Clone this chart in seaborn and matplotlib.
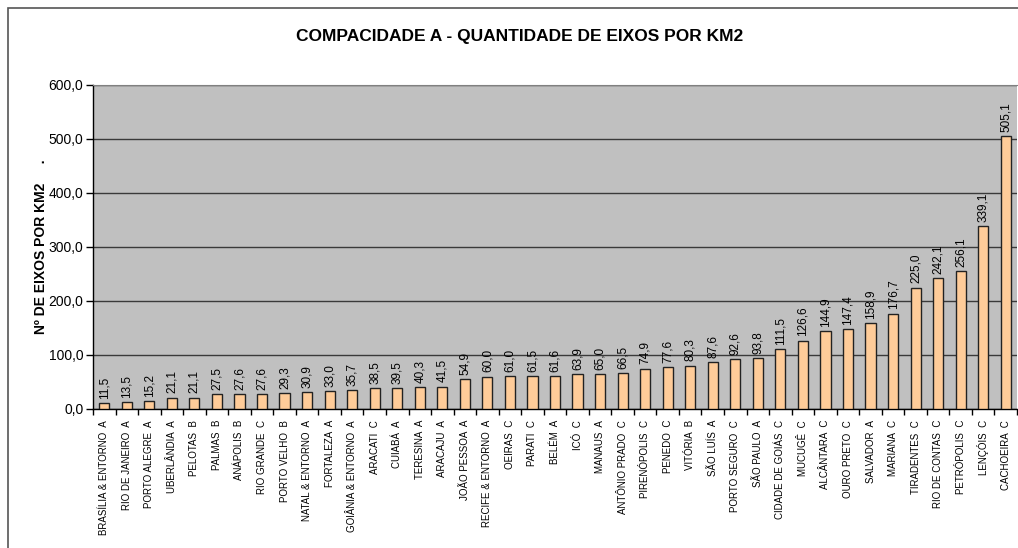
import pandas as pd
import seaborn as sns
import matplotlib.pyplot as plt
from matplotlib.patches import Rectangle
from matplotlib.ticker import FixedLocator

# data
CIDADES = ['BRASÍLIA & ENTORNO', 'RIO DE JANEIRO', 'PORTO ALEGRE', 'UBERLÂNDIA',
           'PELOTAS', 'PALMAS', 'ANÁPOLIS', 'RIO GRANDE', 'PORTO VELHO',
           'NATAL & ENTORNO', 'FORTALEZA', 'GOIÂNIA & ENTORNO', 'ARACATI', 'CUIABÁ',
           'TERESINA', 'ARACAJU', 'JOÃO PESSOA', 'RECIFE & ENTORNO', 'OEIRAS',
           'PARATI', 'BELÉM', 'ICÓ', 'MANAUS', 'ANTÔNIO PRADO', 'PIRENÓPOLIS',
           'PENEDO', 'VITÓRIA', 'SÃO LUÍS', 'PORTO SEGURO', 'SÃO PAULO',
           'CIDADE DE GOIÁS', 'MUCUGÊ', 'ALCÂNTARA', 'OURO PRETO', 'SALVADOR',
           'MARIANA', 'TIRADENTES', 'RIO DE CONTAS', 'PETRÓPOLIS', 'LENÇÓIS',
           'CACHOEIRA']
CLASSES = ['A', 'A', 'A', 'A', 'B', 'B', 'B', 'C', 'B', 'A', 'A', 'A', 'C', 'A',
           'A', 'A', 'A', 'A', 'C', 'C', 'A', 'C', 'A', 'C', 'C', 'C', 'B', 'A',
           'C', 'A', 'C', 'C', 'C', 'C', 'A', 'C', 'C', 'C', 'C', 'C', 'C']
EIXOS_KM2 = [11.5, 13.5, 15.2, 21.1, 21.1, 27.5, 27.6, 27.6, 29.3, 30.9, 33.0,
             35.7, 38.5, 39.5, 40.3, 41.5, 54.9, 60.0, 61.0, 61.5, 61.6, 63.9,
             65.0, 66.5, 74.9, 77.6, 80.3, 87.6, 92.6, 93.8, 111.5, 126.6, 144.9,
             147.4, 158.9, 176.7, 225.0, 242.1, 256.1, 339.1, 505.1]
Y_TICKS = [0, 100, 200, 300, 400, 500, 600]

DATA = pd.DataFrame({'cidade': [c + '  ' + k for c, k in zip(CIDADES, CLASSES)],
                     'valor': EIXOS_KM2})

sns.set_style('white')
plt.rcParams['font.family'] = ['Liberation Sans', 'DejaVu Sans']
plt.rcParams['text.color'] = 'black'
plt.rcParams['axes.labelcolor'] = 'black'
plt.rcParams['xtick.color'] = 'black'
plt.rcParams['ytick.color'] = 'black'

FIG = plt.figure(figsize=(10.18, 5.48), dpi=100)
# outer chart frame
FIG.patches.append(Rectangle((8 / 1018, -0.1), 1.2, 1 - 8 / 548 + 0.1,
                             transform=FIG.transFigure, fill=False,
                             edgecolor='#555555', linewidth=1.2))
AX = FIG.add_axes([93 / 1018, 1 - 409 / 548, 924 / 1018, 324 / 548])
AX.set_facecolor('#C0C0C0')

sns.barplot(data=DATA, x='cidade', y='valor', color='#FFCC99', saturation=1,
            edgecolor='#222222', linewidth=1, width=0.45, ax=AX, zorder=3)

AX.bar_label(AX.containers[0],
             labels=[f'{v:.1f}'.replace('.', ',') for v in EIXOS_KM2],
             rotation=90, padding=3, fontsize=8.5, zorder=4)

AX.set_ylim(0, 600)
AX.set_xlim(-0.5, len(CIDADES) - 0.5)
AX.set_yticks(Y_TICKS)
AX.set_yticklabels([f'{v:.1f}'.replace('.', ',') for v in Y_TICKS], fontsize=10)
AX.yaxis.grid(True, color='#3a3a3a', linewidth=1, zorder=0)
AX.set_axisbelow(True)
AX.tick_params(axis='y', direction='out', length=5, width=1, color='black', pad=2, left=True)

AX.set_xticks(range(len(CIDADES)))
AX.set_xticklabels(DATA['cidade'], rotation=90, fontsize=7)
AX.tick_params(axis='x', which='major', length=0, pad=8)
AX.xaxis.set_minor_locator(FixedLocator([i + 0.5 for i in range(-1, len(CIDADES))]))
AX.tick_params(axis='x', which='minor', direction='out', length=4, width=1,
               color='black', bottom=True)

for s in ['left', 'bottom']:
    AX.spines[s].set_color('black')
    AX.spines[s].set_linewidth(1)
AX.spines['top'].set_color('#808080')
AX.spines['right'].set_visible(False)

AX.set_xlabel('')
AX.set_ylabel('Nº DE EIXOS POR KM2     .', fontsize=10, fontweight='bold', labelpad=0)
FIG.text(520 / 1018, 1 - 36 / 548, 'COMPACIDADE A - QUANTIDADE DE EIXOS POR KM2',
         ha='center', va='center', fontsize=12.5, fontweight='bold')

FIG.savefig('out.png', dpi=100)
